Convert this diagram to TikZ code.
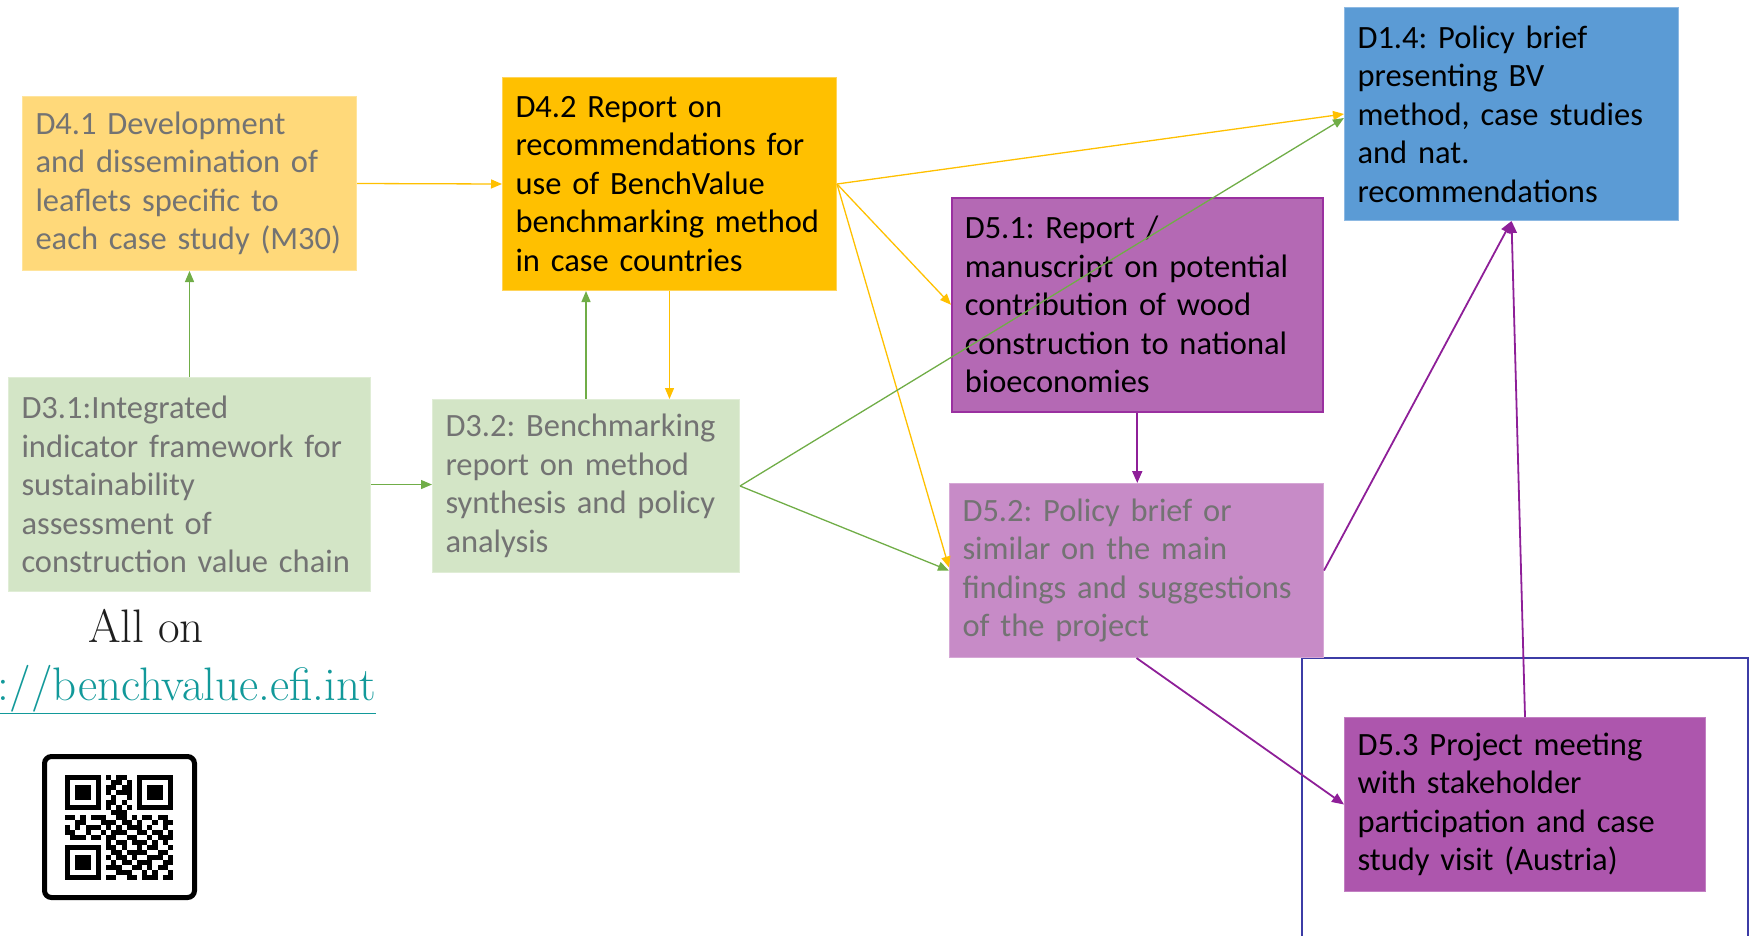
\documentclass[tikz,border=0pt]{standalone}
\usepackage{fontspec}
\newfontfamily\boxfont{Carlito}
\usetikzlibrary{arrows.meta}
\definecolor{c41}{HTML}{FFD97A}
\definecolor{c41b}{HTML}{FFE49C}
\definecolor{c42}{HTML}{FFC000}
\definecolor{c42b}{HTML}{FFD45A}
\definecolor{cgr}{HTML}{D3E5C6}
\definecolor{cgrb}{HTML}{E0EDD6}
\definecolor{c51}{HTML}{B469B4}
\definecolor{c51b}{HTML}{9A30A0}
\definecolor{c52}{HTML}{C78BC7}
\definecolor{c52b}{HTML}{D6A8D6}
\definecolor{c53}{HTML}{AD56AD}
\definecolor{c53b}{HTML}{C27FC2}
\definecolor{c14}{HTML}{5B9BD5}
\definecolor{c14b}{HTML}{8DB9E3}
\definecolor{tgrey}{HTML}{737373}
\definecolor{outl}{HTML}{3C3CA6}
\definecolor{ayel}{HTML}{FFC000}
\definecolor{agrn}{HTML}{70AD47}
\definecolor{apur}{HTML}{8E1F98}
\definecolor{linkc}{HTML}{12999A}
\definecolor{tdark}{HTML}{1E1E1E}
\makeatletter
\def\qrrow#1#2{\def\qry{#1}\def\qrx{0}\qr@parse#2\@nil}
\def\qr@parse#1{\ifx#1\@nil\else\if1#1\fill[black] ({65+\qrx*5.14},{775+\qry*5.0}) rectangle ++(5.2,5.05);\fi\pgfmathtruncatemacro\qrx{\qrx+1}\expandafter\qr@parse\fi}
\makeatother
\begin{document}
\begin{tikzpicture}[x=1pt,y=-1pt,
  dbox/.style={rectangle, draw, line width=1pt, anchor=north west, inner xsep=13pt, inner ysep=0pt, align=left,
    font=\boxfont\fontsize{32.5}{38.5}\selectfont\frenchspacing},
  yarr/.style={draw=ayel, line width=1.3pt, -{Triangle[length=11pt,width=9pt]}},
  garr/.style={draw=agrn, line width=1.3pt, -{Triangle[length=11pt,width=9pt]}},
  parr/.style={draw=apur, line width=1.8pt, -{Triangle[length=12pt,width=10pt]}}]
\useasboundingbox (0,0) rectangle (1752,935);
\clip (0,0) rectangle (1752,935);

% frame around D5.3
\node[draw=outl, line width=2pt, anchor=north west, minimum width=446pt, minimum height=300pt, inner sep=0pt] (frame) at (1301,657) {};

% boxes
\node[dbox, fill=c41, draw=c41b, text=tgrey, minimum width=334pt, minimum height=174pt, text width=308pt] (d41) at (22,96)
  {D4.1 Development\\and dissemination of\\leaflets specific to\\each case study (M30)};
\node[dbox, fill=c42, draw=c42b, text=black, minimum width=334pt, minimum height=213pt, text width=308pt] (d42) at (502,77)
  {D4.2 Report on\\recommendations for\\use of BenchValue\\benchmarking method\\in case countries};
\node[dbox, fill=cgr, draw=cgrb, text=tgrey, minimum width=362pt, minimum height=214pt, text width=336pt] (d31) at (8,377)
  {D3.1:Integrated\\indicator framework for\\sustainability\\assessment of\\construction value chain};
\node[dbox, fill=cgr, draw=cgrb, text=tgrey, minimum width=307pt, minimum height=173pt, text width=281pt] (d32) at (432,399)
  {D3.2: Benchmarking\\report on method\\synthesis and policy\\analysis};
\node[dbox, fill=c51, draw=c51b, line width=1.5pt, text=black, minimum width=371pt, minimum height=214pt, text width=345pt] (d51) at (951,197)
  {D5.1: Report /\\manuscript on potential\\contribution of wood\\construction to national\\bioeconomies};
\node[dbox, fill=c52, draw=c52b, text=tgrey, minimum width=374pt, minimum height=174pt, text width=348pt] (d52) at (949,483)
  {D5.2: Policy brief or\\similar on the main\\findings and suggestions\\of the project};
\node[dbox, fill=c14, draw=c14b, text=black, minimum width=334pt, minimum height=213pt, text width=308pt] (d14) at (1344,7)
  {D1.4: Policy brief\\presenting BV\\method, case studies\\and nat.\\recommendations};
\node[dbox, fill=c53, draw=c53b, text=black, minimum width=361pt, minimum height=174pt, text width=335pt] (d53) at (1344,717)
  {D5.3 Project meeting\\with stakeholder\\participation and case\\study visit (Austria)};

% connectors
\draw[yarr] (d41.east) -- (d42.west);
\draw[yarr] (d42.south) -- (d42.south |- d32.north);
\draw[yarr] (d42.east) -- (d14.west);
\draw[yarr] (d42.east) -- (d51.west);
\draw[yarr] (d42.east) -- ([yshift=3pt]d52.west);
\draw[garr] (d31.north) -- (d31.north |- d41.south);
\draw[garr] (d31.east) -- (d31.east -| d32.west);
\draw[garr] (d32.north) -- (d32.north |- d42.south);
\draw[garr] (d32.east) -- ([yshift=-4pt]d14.west);
\draw[garr] (d32.east) -- (d52.west);
\draw[parr] (d51.south) -- (d51.south |- d52.north);
\draw[parr] (d52.south) -- (d53.west);
\draw[parr] (d52.east) -- (d14.south);
\draw[parr] (d53.north) -- (d14.south);

% link text
\node[font=\fontsize{47}{54}\selectfont, text=tdark, anchor=base, inner sep=0pt] (allon) at (146,642) {All on};
\node[font=\fontsize{47}{54}\selectfont, text=linkc, anchor=base east, inner sep=0pt] (url) at (376,700) {\underline{https://benchvalue.efi.int}};

% QR code
\draw[line width=5pt, rounded corners=7pt] (44.5,756.5) rectangle (194.5,897.5);
\qrrow{0}{111111101011001111111}
\qrrow{1}{100000100110101000001}
\qrrow{2}{101110101101101011101}
\qrrow{3}{101110101011101011101}
\qrrow{4}{101110100100101011101}
\qrrow{5}{100000101101001000001}
\qrrow{6}{111111101010101111111}
\qrrow{7}{000000000111000000000}
\qrrow{8}{110101110011010110110}
\qrrow{9}{001100011101101001011}
\qrrow{10}{101011101010111010010}
\qrrow{11}{110010010111001101101}
\qrrow{12}{011101101100110010111}
\qrrow{13}{000000001011011101010}
\qrrow{14}{111111101101001011001}
\qrrow{15}{100000100110111100110}
\qrrow{16}{101110101011010011101}
\qrrow{17}{101110100101101110011}
\qrrow{18}{101110101110011010110}
\qrrow{19}{100000100011100101001}
\qrrow{20}{111111101100110111011}
\end{tikzpicture}
\end{document}
